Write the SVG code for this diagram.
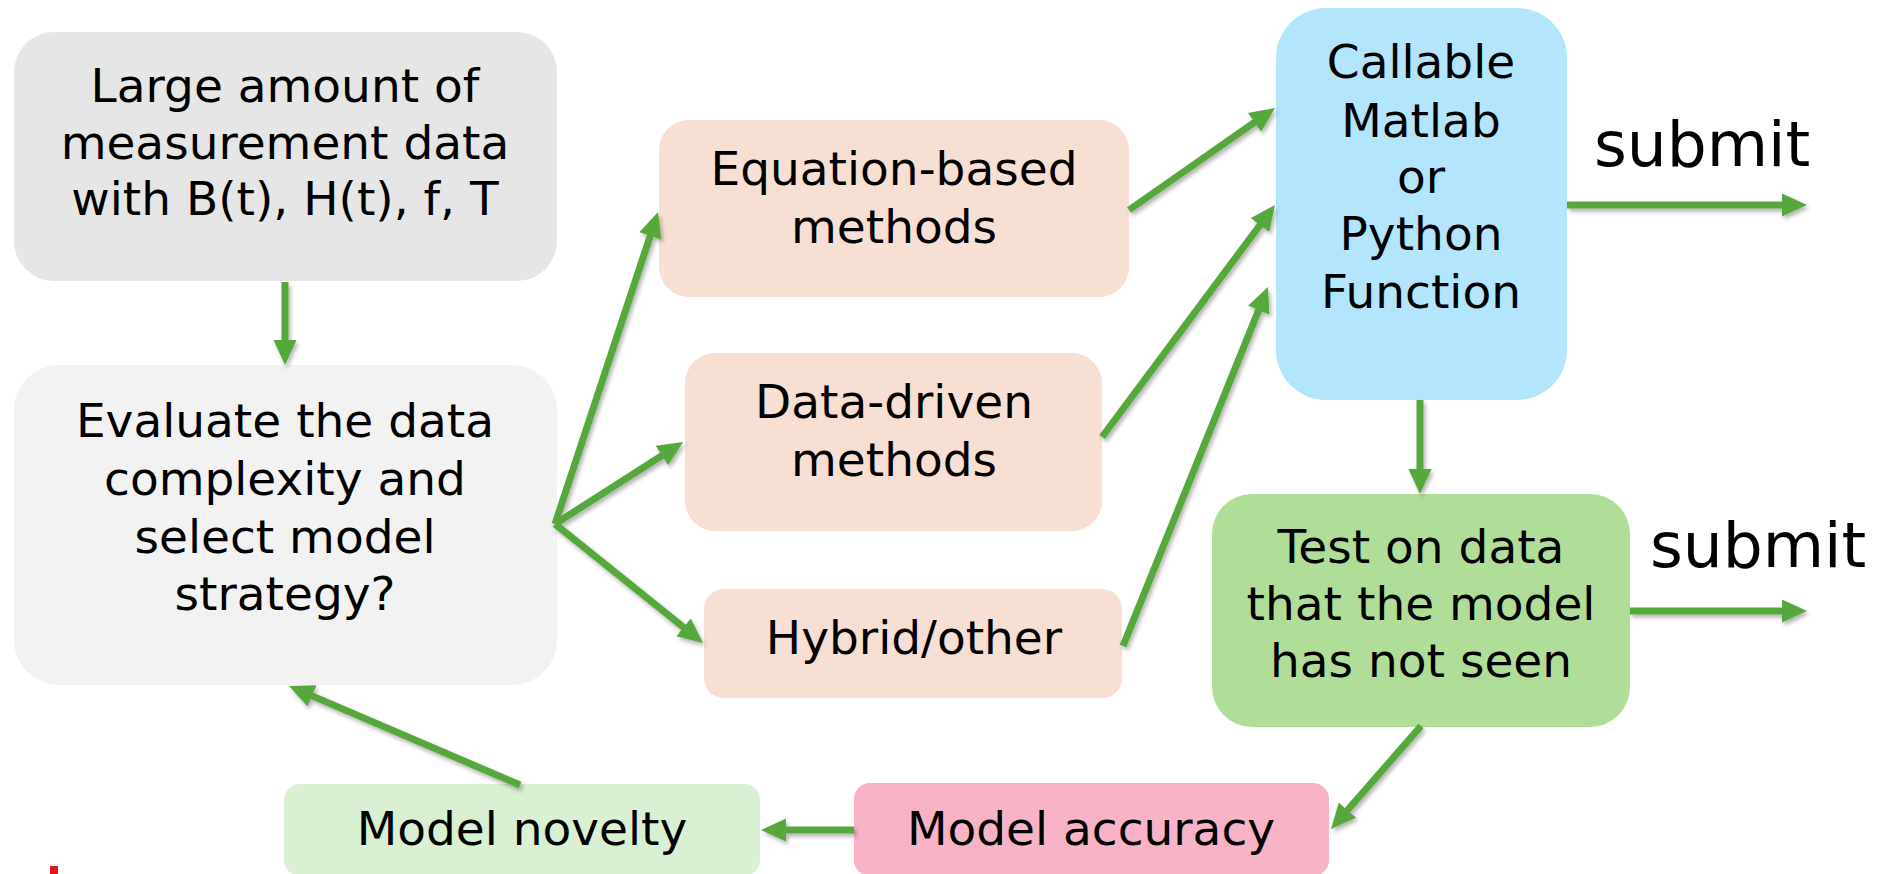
<svg xmlns="http://www.w3.org/2000/svg" width="1878" height="874" viewBox="0 0 1878 874">
<style>
  .t { font-family: "DejaVu Sans", Verdana, sans-serif; font-size: 47px; fill: #000; text-anchor: middle; }
  .s { font-family: "DejaVu Sans", Verdana, sans-serif; font-size: 63px; fill: #000; }
  .c { stroke: #57a83c; stroke-width: 7; fill: none; marker-end: url(#ah); }
</style>
<defs>
  <marker id="ah" markerUnits="userSpaceOnUse" markerWidth="26" markerHeight="24" refX="10" refY="11.5" orient="auto">
    <path d="M0,0 L25,11.5 L0,23 z" fill="#57a83c"/>
  </marker>
  <filter id="sh" x="-20%" y="-20%" width="140%" height="140%">
    <feDropShadow dx="2" dy="3" stdDeviation="2" flood-color="#000" flood-opacity="0.3"/>
  </filter>
</defs>
<rect width="1878" height="874" fill="#fff"/>

<g id="n-data">
  <rect x="14" y="32" width="543" height="249" rx="40" fill="#e6e6e6"/>
  <text class="t" x="285" y="102">Large amount of</text>
  <text class="t" x="285" y="159">measurement data</text>
  <text class="t" x="285" y="215">with B(t), H(t), f, T</text>
</g>
<g id="n-evaluate">
  <rect x="14" y="365" width="543" height="320" rx="45" fill="#f2f2f2"/>
  <text class="t" x="285" y="437">Evaluate the data</text>
  <text class="t" x="285" y="495">complexity and</text>
  <text class="t" x="285" y="553">select model</text>
  <text class="t" x="285" y="610">strategy?</text>
</g>
<g id="n-equation">
  <rect x="659" y="120" width="470" height="177" rx="30" fill="#f8dfd3"/>
  <text class="t" x="894" y="185">Equation-based</text>
  <text class="t" x="894" y="243">methods</text>
</g>
<g id="n-datadriven">
  <rect x="685" y="353" width="417" height="178" rx="30" fill="#f8dfd3"/>
  <text class="t" x="894" y="418">Data-driven</text>
  <text class="t" x="894" y="476">methods</text>
</g>
<g id="n-hybrid">
  <rect x="704" y="589" width="418" height="109" rx="20" fill="#f8dfd3"/>
  <text class="t" x="914" y="654">Hybrid/other</text>
</g>
<g id="n-callable">
  <rect x="1276" y="8" width="291" height="392" rx="50" fill="#b3e5fc"/>
  <text class="t" x="1421" y="78">Callable</text>
  <text class="t" x="1421" y="137">Matlab</text>
  <text class="t" x="1421" y="193">or</text>
  <text class="t" x="1421" y="250">Python</text>
  <text class="t" x="1421" y="308">Function</text>
</g>
<g id="n-test">
  <rect x="1212" y="494" width="418" height="233" rx="40" fill="#b0de98"/>
  <text class="t" x="1421" y="563">Test on data</text>
  <text class="t" x="1421" y="620">that the model</text>
  <text class="t" x="1421" y="677">has not seen</text>
</g>
<g id="n-accuracy">
  <rect x="854" y="783" width="475" height="93" rx="16" fill="#f8b3c6"/>
  <text class="t" x="1091" y="845">Model accuracy</text>
</g>
<g id="n-novelty">
  <rect x="284" y="784" width="476" height="92" rx="16" fill="#d9f0d3"/>
  <text class="t" x="522" y="845">Model novelty</text>
</g>
<g id="labels">
  <text class="s" x="1594" y="166">submit</text>
  <text class="s" x="1650" y="567">submit</text>
</g>

<g id="connectors" filter="url(#sh)">
  <line class="c" x1="285" y1="282" x2="285" y2="350"/>
  <line class="c" x1="555" y1="524" x2="653.4" y2="226.3"/>
  <line class="c" x1="555" y1="524" x2="670.4" y2="450.2"/>
  <line class="c" x1="555" y1="524" x2="691.3" y2="633.6"/>
  <line class="c" x1="1129" y1="210" x2="1262.7" y2="116.6"/>
  <line class="c" x1="1102" y1="437" x2="1266" y2="217"/>
  <line class="c" x1="1123" y1="646" x2="1262.4" y2="300.9"/>
  <line class="c" x1="1567" y1="205" x2="1792" y2="205"/>
  <line class="c" x1="1420" y1="400" x2="1420" y2="479"/>
  <line class="c" x1="1630" y1="611" x2="1792" y2="611"/>
  <line class="c" x1="1421" y1="726" x2="1340.9" y2="817.7"/>
  <line class="c" x1="854" y1="830" x2="776" y2="830"/>
  <line class="c" x1="520" y1="785" x2="302.8" y2="691.9"/>
</g>
<rect x="50" y="866" width="8" height="8" fill="#e3161b"/>
</svg>
